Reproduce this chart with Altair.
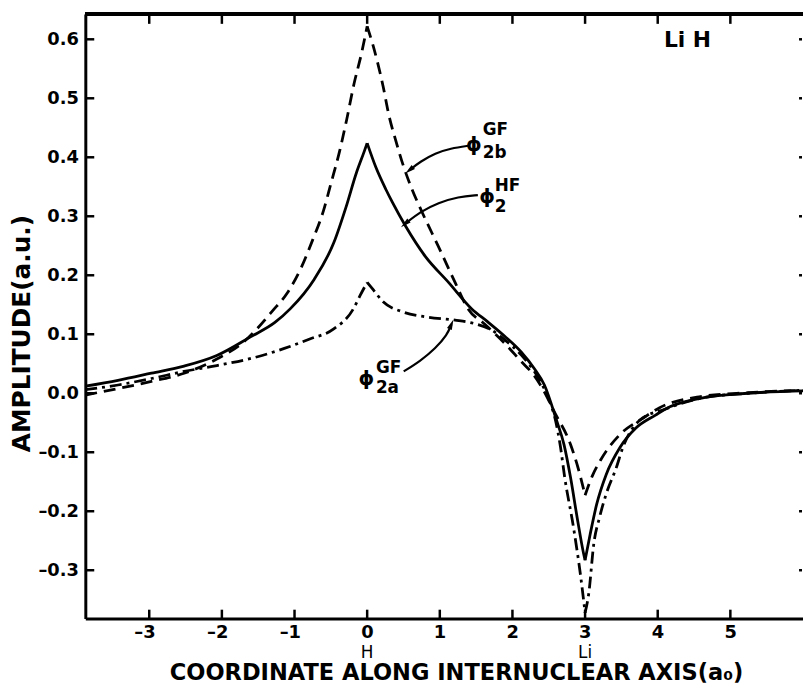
import altair as alt
import pandas as pd

# ---- data ----
hf_x = [-3.88, -3.43, -2.97, -2.52, -2.07, -1.6, -1.27, -1.06, -0.73, -0.46, -0.29, -0.15, -0.04, 0.0,
        0.12, 0.26, 0.35, 0.53, 0.80, 1.12, 1.44, 1.66, 1.89, 2.12, 2.30, 2.44, 2.61, 2.71, 2.80, 2.89,
        2.98, 3.0, 3.07, 3.16, 3.29, 3.48, 3.70, 3.97, 4.1, 4.57, 5.25, 6.0]
hf_y = [0.012, 0.022, 0.034, 0.046, 0.064, 0.096, 0.12, 0.143, 0.193, 0.255, 0.316, 0.373, 0.41, 0.424,
        0.383, 0.345, 0.323, 0.283, 0.232, 0.188, 0.143, 0.121, 0.097, 0.07, 0.042, 0.014, -0.047, -0.087,
        -0.143, -0.21, -0.272, -0.283, -0.239, -0.188, -0.138, -0.092, -0.059, -0.037, -0.027, -0.009, 0.0, 0.004]

gfb_x = [-3.88, -3.43, -2.97, -2.52, -2.07, -1.7, -1.3, -1.1, -0.9, -0.75, -0.6, -0.5, -0.38, -0.28, -0.18,
         -0.08, 0.0, 0.08, 0.22, 0.30, 0.39, 0.5, 0.62, 0.76, 0.98, 1.21, 1.39, 1.62, 1.89, 2.12, 2.30, 2.45,
         2.57, 2.80, 2.9, 3.0, 3.1, 3.21, 3.48, 3.80, 4.02, 4.57, 5.25, 6.0]
gfb_y = [-0.003, 0.008, 0.02, 0.034, 0.058, 0.087, 0.14, 0.17, 0.215, 0.26, 0.31, 0.355, 0.41, 0.465, 0.525,
         0.575, 0.622, 0.59, 0.52, 0.471, 0.43, 0.385, 0.345, 0.306, 0.249, 0.188, 0.143, 0.117, 0.085, 0.054,
         0.030, 0.0, -0.03, -0.087, -0.125, -0.173, -0.14, -0.114, -0.07, -0.042, -0.025, -0.006, 0.001, 0.005]

gfa_x = [-3.88, -3.43, -2.97, -2.52, -2.07, -1.6, -1.14, -0.79, -0.46, -0.19, -0.1, 0.0, 0.08, 0.22, 0.49,
         0.84, 1.21, 1.48, 1.7, 1.9, 2.12, 2.36, 2.5, 2.6, 2.66, 2.72, 2.84, 2.94, 3.0, 3.05, 3.12, 3.2, 3.29,
         3.43, 3.52, 3.76, 4.1, 4.57, 5.25, 6.0]
gfa_y = [0.006, 0.014, 0.025, 0.037, 0.047, 0.059, 0.076, 0.092, 0.109, 0.143, 0.165, 0.188, 0.176, 0.155, 0.138,
         0.129, 0.124, 0.118, 0.108, 0.09, 0.065, 0.025, -0.01, -0.05, -0.09, -0.143, -0.227, -0.311, -0.372,
         -0.34, -0.255, -0.21, -0.171, -0.126, -0.092, -0.045, -0.027, -0.009, 0.0, 0.005]

x_ticks = [-3, -2, -1, 0, 1, 2, 3, 4, 5]
y_ticks = [-0.3, -0.2, -0.1, 0.0, 0.1, 0.2, 0.3, 0.4, 0.5, 0.6]
atom_x = [0, 3]
atom_label = ["H", "Li"]

phi_x = [1.47, 1.65, -0.01]
phi_y = [0.42, 0.333, 0.024]
sup_text = ["GF", "HF", "GF"]
sup_x = [1.59, 1.755, 0.12]
sup_y = [0.446, 0.352, 0.042]
sub_text = ["2b", "2", "2a"]
sub_x = [1.59, 1.755, 0.12]
sub_y = [0.408, 0.316, 0.008]

arrow_b_x = [1.415, 1.143, 0.939, 0.735, 0.58]
arrow_b_y = [0.420, 0.415, 0.407, 0.393, 0.378]
arrow_hf_x = [1.524, 1.252, 0.98, 0.735, 0.52]
arrow_hf_y = [0.336, 0.333, 0.323, 0.308, 0.287]
arrow_a_x = [0.503, 0.735, 0.939, 1.102, 1.16]
arrow_a_y = [0.037, 0.055, 0.076, 0.099, 0.117]
head_x = [0.58, 0.52, 1.16]
head_y = [0.378, 0.287, 0.117]
head_angle = [230, 230, 23]

# ---- chart ----
W, H = 724, 610
FONT = "DejaVu Sans"
xs = alt.Scale(domain=[-3.88, 6.0], nice=False, zero=False)
ys = alt.Scale(domain=[-0.382, 0.643], nice=False, zero=False)


def xq(f, **kw):
    return alt.X(f, type="quantitative", scale=xs, **kw)


def yq(f, **kw):
    return alt.Y(f, type="quantitative", scale=ys, **kw)


x_axis = alt.Axis(values=x_ticks, grid=False, ticks=False, tickSize=0, domainWidth=3, domainColor="black",
                  labelExpr="(datum.value < 0 ? '–' : '') + format(abs(datum.value), 'd')",
                  labelAlign="right", labelOffset=6, labelPadding=5, labelFont=FONT, labelFontSize=18,
                  labelFontWeight="bold", labelColor="black",
                  title="COORDINATE ALONG INTERNUCLEAR AXIS(a₀)", titleFont=FONT, titleFontSize=22.7,
                  titleFontWeight="bold", titleColor="black", titleX=374, titleY=54,
                  titleAlign="center", titleBaseline="middle")
y_axis = alt.Axis(values=y_ticks, grid=False, ticks=False, tickSize=0, domainWidth=3, domainColor="black",
                  labelExpr="(datum.value < 0 ? '–' : '') + format(abs(datum.value), '.1f')",
                  labelPadding=7, labelFont=FONT, labelFontSize=18, labelFontWeight="bold",
                  labelColor="black", labelBaseline="middle",
                  title="AMPLITUDE(a.u.)", titleFont=FONT, titleFontSize=25, titleFontWeight="bold",
                  titleColor="black", titleAngle=270, titleX=-64, titleY=322,
                  titleAlign="center", titleBaseline="middle")


def curve(xv, yv, dash=None, with_axes=False):
    # split at the two nuclear cusps (x=0 and x=3) so each branch is smooth but the cusps stay sharp
    rows = []
    for x, y in zip(xv, yv):
        if x <= 0:
            rows.append((x, y, "a"))
        if 0 <= x <= 3:
            rows.append((x, y, "b"))
        if x >= 3:
            rows.append((x, y, "c"))
    df = pd.DataFrame(rows, columns=["x", "y", "seg"])
    kw = dict(color="black", strokeWidth=2.8, strokeCap="butt", strokeJoin="miter", interpolate="monotone")
    if dash:
        kw["strokeDash"] = dash
    return alt.Chart(df).mark_line(**kw).encode(
        x=xq("x", axis=x_axis if with_axes else None),
        y=yq("y", axis=y_axis if with_axes else None),
        detail="seg:N",
    )


hf = curve(hf_x, hf_y, with_axes=True)
gfb = curve(gfb_x, gfb_y, dash=[12, 7])
gfa = curve(gfa_x, gfa_y, dash=[12, 5, 3, 5])

xt = pd.DataFrame({"t": x_ticks})
yt = pd.DataFrame({"t": y_ticks})
tick_bottom = alt.Chart(xt).mark_rule(color="black", strokeWidth=2.5).encode(
    x=xq("t", axis=None), y=alt.value(H), y2=alt.value(H - 9))
tick_top = alt.Chart(xt).mark_rule(color="black", strokeWidth=2.5).encode(
    x=xq("t", axis=None), y=alt.value(0), y2=alt.value(10))
tick_left = alt.Chart(yt).mark_rule(color="black", strokeWidth=2.5).encode(
    y=yq("t", axis=None), x=alt.value(0), x2=alt.value(9))
tick_right = alt.Chart(yt).mark_rule(color="black", strokeWidth=2.5).encode(
    y=yq("t", axis=None), x=alt.value(W - 4), x2=alt.value(W - 1))
top_frame = alt.Chart(xt).mark_rule(color="black", strokeWidth=3).encode(
    x=alt.value(0), x2=alt.value(W), y=alt.value(0))

atoms = alt.Chart(pd.DataFrame({"x": atom_x, "t": atom_label})).mark_text(
    font=FONT, fontSize=17, color="black", baseline="middle", align="center").encode(
    x=xq("x", axis=None), y=alt.value(H + 35), text="t:N")

phis = alt.Chart(pd.DataFrame({"x": phi_x, "y": phi_y, "t": ["ϕ"] * 3})).mark_text(
    font=FONT, fontSize=20, fontWeight="bold", color="black", baseline="middle", align="center").encode(
    x=xq("x", axis=None), y=yq("y", axis=None), text="t:N")
sups = alt.Chart(pd.DataFrame({"x": sup_x, "y": sup_y, "t": sup_text})).mark_text(
    font=FONT, fontSize=17, fontWeight="bold", color="black", baseline="middle", align="left").encode(
    x=xq("x", axis=None), y=yq("y", axis=None), text="t:N")
subs = alt.Chart(pd.DataFrame({"x": sub_x, "y": sub_y, "t": sub_text})).mark_text(
    font=FONT, fontSize=17, fontWeight="bold", color="black", baseline="middle", align="left").encode(
    x=xq("x", axis=None), y=yq("y", axis=None), text="t:N")
lih = alt.Chart(pd.DataFrame({"x": [4.41], "y": [0.598], "t": ["Li H"]})).mark_text(
    font=FONT, fontSize=22, fontWeight="bold", color="black", baseline="middle", align="center").encode(
    x=xq("x", axis=None), y=yq("y", axis=None), text="t:N")

arrow_df = pd.concat([
    pd.DataFrame({"x": arrow_b_x, "y": arrow_b_y, "a": "b", "o": range(5)}),
    pd.DataFrame({"x": arrow_hf_x, "y": arrow_hf_y, "a": "hf", "o": range(5)}),
    pd.DataFrame({"x": arrow_a_x, "y": arrow_a_y, "a": "a", "o": range(5)}),
])
arrows = alt.Chart(arrow_df).mark_line(color="black", strokeWidth=2.2, interpolate="basis").encode(
    x=xq("x", axis=None), y=yq("y", axis=None), detail="a:N", order="o:Q")
heads = alt.Chart(pd.DataFrame({"x": head_x, "y": head_y, "ang": head_angle})).mark_point(
    shape="M0,-1L0.5,1L-0.5,1Z", size=110, filled=True, color="black", opacity=1).encode(
    x=xq("x", axis=None), y=yq("y", axis=None), angle=alt.Angle("ang:Q", scale=None))

chart = alt.layer(
    hf, gfb, gfa, tick_bottom, tick_top, tick_left, tick_right, top_frame,
    atoms, phis, sups, subs, lih, arrows, heads
).resolve_axis(x="independent", y="independent").properties(
    width=W, height=H,
    autosize=alt.AutoSizeParams(type="none"),
    padding={"left": 78, "top": 3, "right": 0, "bottom": 65},
).configure_view(stroke=None).configure(background="white")

chart.save("out.html", embed_options={"renderer": "svg", "actions": False})
